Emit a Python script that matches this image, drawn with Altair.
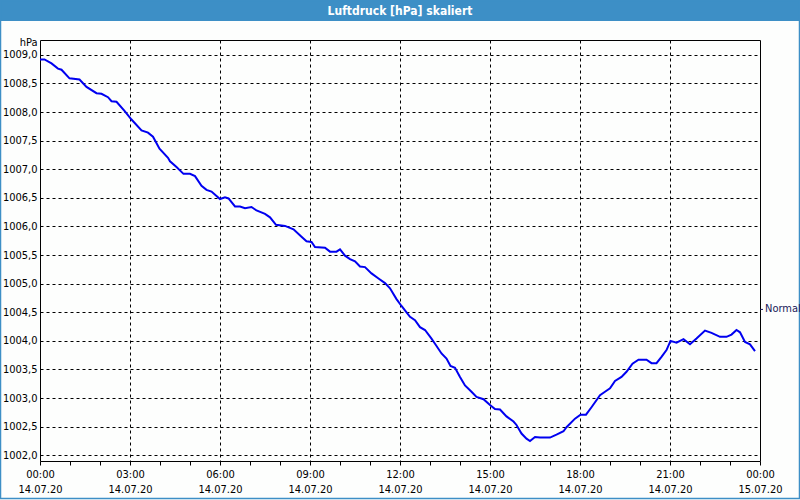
import altair as alt
import pandas as pd

# time in minutes after 14.07.20 00:00, pressure in hPa
minutes = [0, 9, 23, 36, 43, 59, 79, 93, 113, 123, 136, 143, 153, 169, 183, 203, 216, 226, 239, 256,
           260, 273, 287, 300, 310, 323, 333, 343, 360, 370, 377, 390, 400, 410, 423, 433, 450, 460, 472, 490,
           507, 523, 533, 543, 550, 570, 580, 593, 600, 610, 620, 630, 640, 650, 663, 677, 690, 700, 713, 723,
           740, 750, 760, 770, 783, 790, 803, 813, 821, 830, 840, 850, 863, 873, 887, 900, 910, 920, 933, 947,
           953, 963, 973, 980, 990, 1000, 1020, 1033, 1047, 1053, 1070, 1081, 1092, 1103, 1120, 1130, 1140, 1150, 1163, 1173,
           1185, 1197, 1213, 1223, 1233, 1243, 1253, 1261, 1273, 1287, 1300, 1313, 1330, 1343, 1360, 1373, 1383, 1393, 1400, 1410,
           1420, 1430]
pressure = [1008.92, 1008.92, 1008.85, 1008.76, 1008.74, 1008.59, 1008.57, 1008.44, 1008.33, 1008.32, 1008.26, 1008.19, 1008.18, 1008.02, 1007.87, 1007.68, 1007.64, 1007.57, 1007.36, 1007.20,
            1007.14, 1007.04, 1006.92, 1006.92, 1006.88, 1006.71, 1006.64, 1006.61, 1006.48, 1006.51, 1006.49, 1006.35, 1006.35, 1006.32, 1006.34, 1006.28, 1006.22, 1006.16, 1006.03, 1006.01,
            1005.95, 1005.82, 1005.74, 1005.73, 1005.64, 1005.63, 1005.56, 1005.56, 1005.60, 1005.49, 1005.43, 1005.39, 1005.30, 1005.29, 1005.18, 1005.09, 1005.01, 1004.92, 1004.73, 1004.61,
            1004.42, 1004.36, 1004.24, 1004.19, 1004.04, 1003.95, 1003.78, 1003.69, 1003.56, 1003.53, 1003.37, 1003.22, 1003.11, 1003.02, 1002.98, 1002.88, 1002.81, 1002.80, 1002.68, 1002.59,
            1002.53, 1002.38, 1002.29, 1002.25, 1002.32, 1002.31, 1002.31, 1002.36, 1002.42, 1002.49, 1002.64, 1002.71, 1002.71, 1002.84, 1003.05, 1003.11, 1003.17, 1003.30, 1003.37, 1003.46,
            1003.60, 1003.67, 1003.67, 1003.61, 1003.61, 1003.72, 1003.84, 1004.00, 1003.97, 1004.03, 1003.94, 1004.04, 1004.18, 1004.14, 1004.07, 1004.07, 1004.11, 1004.19, 1004.15, 1003.98,
            1003.94, 1003.82]

y_ticks = [1002.0, 1002.5, 1003.0, 1003.5, 1004.0, 1004.5, 1005.0, 1005.5, 1006.0, 1006.5, 1007.0, 1007.5, 1008.0, 1008.5, 1009.0]
x_ticks = [0, 60, 120, 180, 240, 300, 360, 420, 480, 540, 600, 660, 720, 780, 840, 900, 960, 1020, 1080,
           1140, 1200, 1260, 1320, 1380, 1440]
normal_label = ["Normal"]
normal_value = [1004.55]
title_text = ["Luftdruck [hPa] skaliert"]

FONT = "DejaVu Sans Condensed, DejaVu Sans, sans-serif"
W, H = 720, 421

df = pd.DataFrame({"t": minutes, "p": pressure})
normal_df = pd.DataFrame({"label": normal_label, "v": normal_value})
title_df = pd.DataFrame({"title": title_text})

x_scale = alt.Scale(domain=[0, 1440], nice=False, zero=False)
y_scale = alt.Scale(domain=[1001.9, 1009.26], nice=False, zero=False)

y_axis = alt.Axis(
    values=y_ticks, tickCount=60, title="hPa", titleAngle=0, titleAlign="right", titleX=-3, titleY=2,
    titleBaseline="middle", titleFontWeight="normal", titleFontSize=11, titleFont=FONT,
    titleColor="black",
    labelExpr="replace(format(datum.value, '.1f'), '.', ',')", labelFontSize=11,
    labelFont=FONT, labelColor="black", labelPadding=3, ticks=False, domain=False,
    labelBaseline="middle", labelOverlap=False, labelFlush=False,
    grid=True, gridColor="black", gridDash=[3, 3], gridWidth=1,
)

title_bar = alt.Chart(title_df).mark_rect(color="#3d8fc6").encode(
    x=alt.value(-40), x2=alt.value(760), y=alt.value(-40), y2=alt.value(-19)
)
title_mark = alt.Chart(title_df).mark_text(
    color="white", fontSize=12, fontWeight="bold", font=FONT, align="center", baseline="middle"
).encode(x=alt.value(360), y=alt.value(-29), text="title:N")
border = alt.Chart(title_df).mark_rect(fill=None, stroke="#3d8fc6", strokeWidth=1.5).encode(
    x=alt.value(-39.5), x2=alt.value(759.5), y=alt.value(-39.5), y2=alt.value(458.5)
)

x_label_expr = (
    "datum.value % 180 == 0 ? [format(floor(datum.value/60) % 24, '02d') + ':00', "
    "datum.value < 1440 ? '14.07.20' : '15.07.20'] : ''"
)

line = alt.Chart(df).mark_line(color="#0000f0", strokeWidth=2, clip=True).encode(
    x=alt.X("t:Q", scale=x_scale, axis=alt.Axis(
        values=x_ticks, tickCount=60, title=None, labelExpr=x_label_expr, labelOverlap=False,
        labelFlush=False, labelBound=False, tickSize=4, tickColor="black", domain=False,
        labelPadding=3, labelLineHeight=15, labelFontSize=11, labelFont=FONT, labelColor="black",
        grid=True, gridColor="black", gridDash=[3, 3], gridWidth=1,
        gridOpacity={"condition": {"test": "datum.value % 180 == 0 && datum.value > 0 && datum.value < 1440", "value": 1}, "value": 0},
    )),
    y=alt.Y("p:Q", scale=y_scale, axis=y_axis),
)

normal_tick = alt.Chart(normal_df).mark_rule(color="#1a1a5a", strokeWidth=1).encode(
    y=alt.Y("v:Q", scale=y_scale, axis=y_axis), x=alt.value(720), x2=alt.value(723)
)
normal_text = alt.Chart(normal_df).mark_text(
    align="left", baseline="middle", fontSize=11, font=FONT, color="#1a1a5a"
).encode(y=alt.Y("v:Q", scale=y_scale, axis=y_axis), x=alt.value(725), text="label:N")

chart = alt.layer(title_bar, title_mark, border, line, normal_tick, normal_text).properties(
    width=W, height=H,
    autosize=alt.AutoSizeParams(type="none"),
    padding={"left": 40, "top": 40, "right": 40, "bottom": 39},
    background="#fdfefd",
).configure_view(stroke="black", strokeWidth=1)

chart.save("out.html", embed_options={"renderer": "svg", "actions": False})
